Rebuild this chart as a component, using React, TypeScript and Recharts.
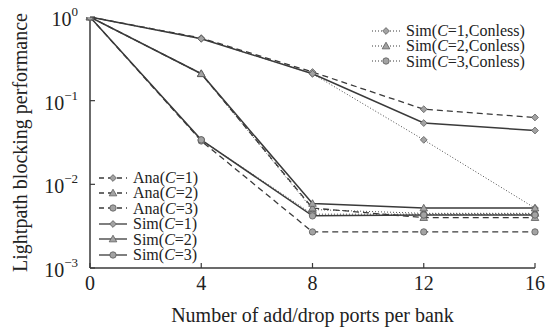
import React from "react";
import { LineChart, Line, XAxis, YAxis } from "recharts";

// number of add/drop ports per bank
const ports = [0, 4, 8, 12, 16];

// analytical results
const anaC1 = [1, 0.56, 0.22, 0.079, 0.063];
const anaC2 = [1, 0.21, 0.0052, 0.004, 0.004];
const anaC3 = [1, 0.033, 0.0027, 0.0027, 0.0027];

// simulation results
const simC1 = [1, 0.55, 0.21, 0.054, 0.044];
const simC2 = [1, 0.21, 0.0059, 0.0052, 0.0052];
const simC3 = [1, 0.034, 0.0042, 0.0043, 0.0043];

// simulation, contention-less
const conC1 = [1, 0.55, 0.21, 0.034, 0.0052];
const conC2 = [1, 0.21, 0.005, 0.0045, 0.0045];
const conC3 = [1, 0.034, 0.0044, 0.0044, 0.0044];

const xTicks = [0, 4, 8, 12, 16];
const yTicks = [1, 0.1, 0.01, 0.001];
const yExp = ["0", "\u22121", "\u22122", "\u22123"];

const data = ports.map((p, i) => ({
  port: p,
  anaC1: anaC1[i],
  anaC2: anaC2[i],
  anaC3: anaC3[i],
  simC1: simC1[i],
  simC2: simC2[i],
  simC3: simC3[i],
  conC1: conC1[i],
  conC2: conC2[i],
  conC3: conC3[i],
}));

const LINE = "#3a3a3a";
const MFILL = "#a3a3a3";
const MSTROKE = "#5a5a5a";
const FONT = "'Liberation Serif', 'Times New Roman', serif";

type Shape = "diamond" | "triangle" | "circle";

const Marker = ({ shape, cx, cy }: { shape: Shape; cx: number; cy: number }) => {
  if (shape === "diamond") {
    const s = 3.4;
    return (
      <polygon
        points={`${cx},${cy - s} ${cx + s},${cy} ${cx},${cy + s} ${cx - s},${cy}`}
        fill={MFILL}
        stroke={MSTROKE}
        strokeWidth={0.8}
      />
    );
  }
  if (shape === "triangle") {
    const s = 3.8;
    return (
      <polygon
        points={`${cx},${cy - s} ${cx + s},${cy + s * 0.75} ${cx - s},${cy + s * 0.75}`}
        fill={MFILL}
        stroke={MSTROKE}
        strokeWidth={0.8}
      />
    );
  }
  return <circle cx={cx} cy={cy} r={3.2} fill={MFILL} stroke={MSTROKE} strokeWidth={0.8} />;
};

const makeDot = (shape: Shape) => (props: any) => {
  const { cx, cy, index } = props;
  if (cx == null || cy == null) return <g key={index} />;
  return (
    <g key={`${shape}-${index}`}>
      <Marker shape={shape} cx={cx} cy={cy} />
    </g>
  );
};

const XTick = (props: any) => {
  const { x, y, payload } = props;
  return (
    <g>
      <line x1={x} y1={y} x2={x} y2={y - 5} stroke={LINE} strokeWidth={1.2} />
      <text x={x} y={y + 22} textAnchor="middle" fontSize={20} fontFamily={FONT} fill="#222">
        {payload.value}
      </text>
    </g>
  );
};

const TopTick = (props: any) => {
  const { x, y, payload } = props;
  if (payload.value === 0 || payload.value === 16) return <g />;
  return <line x1={x} y1={y} x2={x} y2={y + 5} stroke={LINE} strokeWidth={1.2} />;
};

const YTick = (props: any) => {
  const { x, y, index } = props;
  return (
    <g>
      <line x1={x} y1={y} x2={x + 5} y2={y} stroke={LINE} strokeWidth={1.2} />
      <text x={x - 12} y={y + 9} textAnchor="end" fontSize={20} fontFamily={FONT} fill="#222">
        10
        <tspan dy={-10} fontSize={13}>
          {yExp[index]}
        </tspan>
      </text>
    </g>
  );
};

type Entry = { label: string; c: string; tail?: string; dash?: string; shape: Shape };

const LegendSample = ({ dash, shape, w }: { dash?: string; shape: Shape; w: number }) => (
  <svg width={w} height={12} style={{ display: "block" }}>
    <line
      x1={0}
      y1={6}
      x2={w}
      y2={6}
      stroke={LINE}
      strokeWidth={dash === "1 2" ? 1 : 1.3}
      strokeDasharray={dash}
    />
    <Marker shape={shape} cx={w / 2} cy={6} />
  </svg>
);

const LegendBox = ({
  entries,
  left,
  top,
  rowH,
  sampleW,
}: {
  entries: Entry[];
  left: number;
  top: number;
  rowH: number;
  sampleW: number;
}) => (
  <div style={{ position: "absolute", left, top, fontFamily: FONT, fontSize: 16, color: "#222" }}>
    {entries.map((e, i) => (
      <div
        key={i}
        style={{ display: "flex", alignItems: "center", height: rowH, lineHeight: `${rowH}px`, whiteSpace: "nowrap" }}
      >
        <LegendSample dash={e.dash} shape={e.shape} w={sampleW} />
        <span style={{ marginLeft: 6 }}>{`${e.label}(`}<i>C</i>{`=${e.c}${e.tail ?? ""})`}</span>
      </div>
    ))}
  </div>
);

const bottomLegend: Entry[] = [
  { label: "Ana", c: "1", dash: "5 4", shape: "diamond" },
  { label: "Ana", c: "2", dash: "5 4", shape: "triangle" },
  { label: "Ana", c: "3", dash: "5 4", shape: "circle" },
  { label: "Sim", c: "1", shape: "diamond" },
  { label: "Sim", c: "2", shape: "triangle" },
  { label: "Sim", c: "3", shape: "circle" },
];

const topLegend: Entry[] = [
  { label: "Sim", c: "1", tail: ",Conless", dash: "1 2", shape: "diamond" },
  { label: "Sim", c: "2", tail: ",Conless", dash: "1 2", shape: "triangle" },
  { label: "Sim", c: "3", tail: ",Conless", dash: "1 2", shape: "circle" },
];

export default function App() {
  return (
    <div style={{ position: "absolute", left: 0, top: 0, width: 547, height: 328, background: "#fff" }}>
      <LineChart width={547} height={328} data={data} margin={{ top: 17, right: 12, left: 0, bottom: 0 }}>
        <XAxis
          dataKey="port"
          type="number"
          domain={[0, 16]}
          ticks={xTicks}
          height={60}
          tickSize={0}
          tickMargin={0}
          tick={<XTick />}
          stroke={LINE}
          strokeWidth={1.5}
          label={{
            value: "Number of add/drop ports per bank",
            position: "insideBottom",
            offset: 6,
            fontSize: 20,
            fontFamily: FONT,
            fill: "#222",
          }}
        />
        <XAxis
          xAxisId="top"
          orientation="top"
          dataKey="port"
          type="number"
          domain={[0, 16]}
          ticks={xTicks}
          height={0}
          tickSize={0}
          tickMargin={0}
          tick={<TopTick />}
          stroke={LINE}
          strokeWidth={1.5}
        />
        <YAxis
          scale="log"
          domain={[0.001, 1]}
          allowDataOverflow
          ticks={yTicks}
          width={90}
          tickSize={0}
          tickMargin={0}
          tick={<YTick />}
          stroke={LINE}
          strokeWidth={1.5}
          label={{
            value: "Lightpath blocking performance",
            angle: -90,
            position: "insideLeft",
            offset: 20,
            fontSize: 20,
            fontFamily: FONT,
            fill: "#222",
            style: { textAnchor: "middle" },
          }}
        />
        <YAxis
          yAxisId="right"
          orientation="right"
          width={0}
          tick={false}
          tickLine={false}
          stroke={LINE}
          strokeWidth={1.5}
        />

        <Line dataKey="conC1" stroke={LINE} strokeWidth={0.9} strokeDasharray="1 2" dot={makeDot("diamond")} isAnimationActive={false} />
        <Line dataKey="conC2" stroke={LINE} strokeWidth={0.9} strokeDasharray="1 2" dot={makeDot("triangle")} isAnimationActive={false} />
        <Line dataKey="conC3" stroke={LINE} strokeWidth={0.9} strokeDasharray="1 2" dot={makeDot("circle")} isAnimationActive={false} />

        <Line dataKey="anaC1" stroke={LINE} strokeWidth={1.3} strokeDasharray="6 4" dot={makeDot("diamond")} isAnimationActive={false} />
        <Line dataKey="anaC2" stroke={LINE} strokeWidth={1.3} strokeDasharray="6 4" dot={makeDot("triangle")} isAnimationActive={false} />
        <Line dataKey="anaC3" stroke={LINE} strokeWidth={1.3} strokeDasharray="6 4" dot={makeDot("circle")} isAnimationActive={false} />

        <Line dataKey="simC1" stroke={LINE} strokeWidth={1.5} dot={makeDot("diamond")} isAnimationActive={false} />
        <Line dataKey="simC2" stroke={LINE} strokeWidth={1.5} dot={makeDot("triangle")} isAnimationActive={false} />
        <Line dataKey="simC3" stroke={LINE} strokeWidth={1.5} dot={makeDot("circle")} isAnimationActive={false} />
      </LineChart>

      <LegendBox entries={bottomLegend} left={99} top={170} rowH={15.4} sampleW={28} />
      <LegendBox entries={topLegend} left={372} top={23} rowH={15.4} sampleW={28} />
    </div>
  );
}
